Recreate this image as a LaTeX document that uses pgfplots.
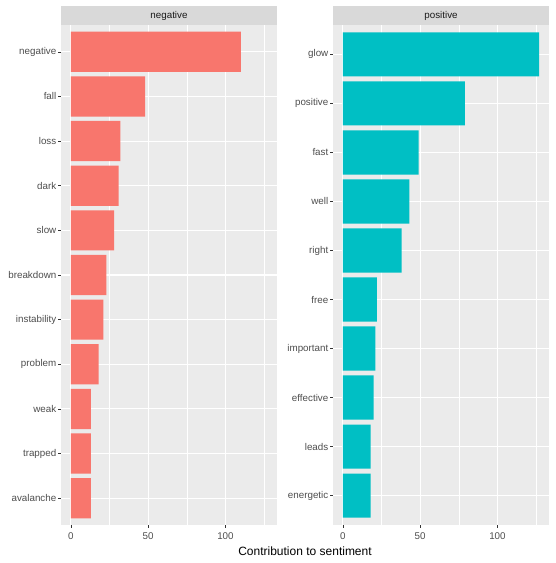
\documentclass[border=0pt]{standalone}
\usepackage{pgfplots}
\pgfplotsset{compat=1.18}
\usepackage{fontspec}
\setmainfont{Liberation Sans}

\definecolor{panelbg}{HTML}{EBEBEB}
\definecolor{stripbg}{HTML}{D9D9D9}
\definecolor{ticktext}{HTML}{4D4D4D}
\definecolor{striptext}{HTML}{1A1A1A}
\definecolor{tickcol}{HTML}{333333}
\definecolor{negred}{HTML}{F8766D}
\definecolor{poscyan}{HTML}{00BFC4}

\pgfplotsset{
  facet/.style={
    scale only axis, width=216pt, height=500pt,
    anchor=south west,
    xbar, bar width=0.9,
    xmin=-6.35, xmax=133.35,
    xtick={0,50,100}, minor xtick={25,75,125},
    ytick=data,
    axis lines*=left, axis line style={draw=none},
    axis background/.style={fill=panelbg},
    xmajorgrids, ymajorgrids, xminorgrids,
    major grid style={white, line width=1.1pt},
    minor grid style={white, line width=0.55pt},
    tick align=outside, major tick length=3pt, minor tick length=0pt,
    tick style={tickcol, line width=0.5pt},
    ticklabel style={font=\fontsize{9.8}{11}\selectfont, text=ticktext},
    /pgf/number format/assume math mode=true,
    yticklabel style={inner sep=1.5pt},
    xticklabel style={inner sep=4pt},
    every axis title shift=0pt,
    title style={at={(0.5,1)}, anchor=south, yshift=0pt, fill=stripbg,
      minimum width=216pt, minimum height=19pt, inner sep=0pt, outer sep=0pt,
      text=striptext, font=\fontsize{9.8}{11}\selectfont},
  },
}

\begin{document}
\begin{tikzpicture}[x=1pt,y=1pt]
\path[use as bounding box] (0,0) rectangle (556,563);

\begin{axis}[facet, at={(61pt,38pt)}, title={negative},
  ymin=0.4, ymax=11.6,
  yticklabels={avalanche,trapped,weak,problem,instability,breakdown,slow,dark,loss,fall,negative}]
\addplot[fill=negred, draw=none] coordinates {
  (13,1) (13,2) (13,3) (18,4) (21,5) (23,6) (28,7) (31,8) (32,9) (48,10) (110,11)};
\end{axis}

\begin{axis}[facet, at={(333pt,38pt)}, title={positive},
  ymin=0.4, ymax=10.6,
  yticklabels={energetic,leads,effective,important,free,right,well,fast,positive,glow}]
\addplot[fill=poscyan, draw=none] coordinates {
  (18,1) (18,2) (20,3) (21,4) (22,5) (38,6) (43,7) (49,8) (79,9) (127,10)};
\end{axis}

\node[font=\fontsize{12}{14}\selectfont] at (305,12) {Contribution to sentiment};
\end{tikzpicture}
\end{document}
